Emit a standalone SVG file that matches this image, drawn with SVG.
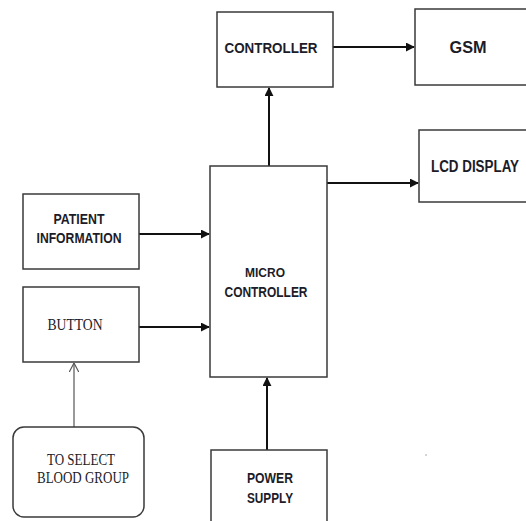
<svg xmlns="http://www.w3.org/2000/svg" width="526" height="521" viewBox="0 0 526 521">
<defs>
<style>
.box{fill:#fff;stroke:#3a3a3a;stroke-width:1.5}
.t{font-family:"Liberation Sans",Arial,sans-serif;font-weight:bold;fill:#1c1c28;text-anchor:middle}
.s{font-family:"Liberation Serif","Times New Roman",serif;fill:#1c1c28;text-anchor:middle}
.c{stroke:#111;stroke-width:2;fill:none}
.thin{stroke:#555;stroke-width:1.2;fill:none}
</style>
<marker id="ah" viewBox="0 0 10 10" refX="9" refY="5" markerWidth="4.5" markerHeight="4.5" orient="auto" markerUnits="strokeWidth">
<path d="M0,0 L10,5 L0,10 z" fill="#111"/>
</marker>
<marker id="oh" viewBox="0 0 10 10" refX="9.5" refY="5" markerWidth="8" markerHeight="8" orient="auto" markerUnits="strokeWidth">
<path d="M0,0 L9.5,5 L0,10" fill="none" stroke="#555" stroke-width="1.2"/>
</marker>
</defs>
<rect width="526" height="521" fill="#fff"/>
<g id="connectors">
<line class="c" x1="333" y1="47" x2="414" y2="47" marker-end="url(#ah)"/>
<line class="c" x1="269" y1="166" x2="269" y2="88" marker-end="url(#ah)"/>
<line class="c" x1="327" y1="183" x2="418" y2="183" marker-end="url(#ah)"/>
<line class="c" x1="139" y1="234" x2="209" y2="234" marker-end="url(#ah)"/>
<line class="c" x1="139" y1="327" x2="209" y2="327" marker-end="url(#ah)"/>
<line class="c" x1="267" y1="450" x2="267" y2="378" marker-end="url(#ah)"/>
<line class="thin" x1="74" y1="427" x2="74" y2="363" marker-end="url(#oh)"/>
</g>
<g id="controller">
<rect class="box" x="217" y="12" width="116" height="75"/>
<text class="t" x="271" y="53" font-size="15" textLength="93" lengthAdjust="spacingAndGlyphs">CONTROLLER</text>
</g>
<g id="gsm">
<rect class="box" x="415" y="9" width="120" height="76"/>
<text class="t" x="468" y="53" font-size="17" textLength="37" lengthAdjust="spacingAndGlyphs">GSM</text>
</g>
<g id="lcd">
<rect class="box" x="419" y="130" width="120" height="72"/>
<text class="t" x="475" y="172" font-size="16" textLength="88" lengthAdjust="spacingAndGlyphs">LCD DISPLAY</text>
</g>
<g id="micro">
<rect class="box" x="210" y="166" width="117" height="211"/>
<text class="t" x="265" y="277" font-size="13" textLength="40" lengthAdjust="spacingAndGlyphs">MICRO</text>
<text class="t" x="266" y="297" font-size="15" textLength="83" lengthAdjust="spacingAndGlyphs">CONTROLLER</text>
</g>
<g id="patient">
<rect class="box" x="23" y="194" width="116" height="75"/>
<text class="t" x="79" y="224" font-size="14" textLength="51" lengthAdjust="spacingAndGlyphs">PATIENT</text>
<text class="t" x="79" y="243" font-size="14" textLength="85" lengthAdjust="spacingAndGlyphs">INFORMATION</text>
</g>
<g id="button">
<rect class="box" x="23" y="287" width="116" height="75"/>
<text class="s" x="75" y="330" font-size="16" textLength="55" lengthAdjust="spacingAndGlyphs">BUTTON</text>
</g>
<g id="blood">
<rect class="box" x="13" y="427" width="131" height="90" rx="11" ry="11"/>
<text class="s" x="81" y="465" font-size="16" textLength="68" lengthAdjust="spacingAndGlyphs">TO SELECT</text>
<text class="s" x="83" y="483" font-size="16" textLength="92" lengthAdjust="spacingAndGlyphs">BLOOD GROUP</text>
</g>
<g id="power">
<rect class="box" x="211" y="450" width="116" height="80"/>
<text class="t" x="270" y="483" font-size="14" textLength="46" lengthAdjust="spacingAndGlyphs">POWER</text>
<text class="t" x="270" y="503" font-size="14" textLength="46" lengthAdjust="spacingAndGlyphs">SUPPLY</text>
</g>
<circle cx="426" cy="455" r="0.7" fill="#888"/>
</svg>
